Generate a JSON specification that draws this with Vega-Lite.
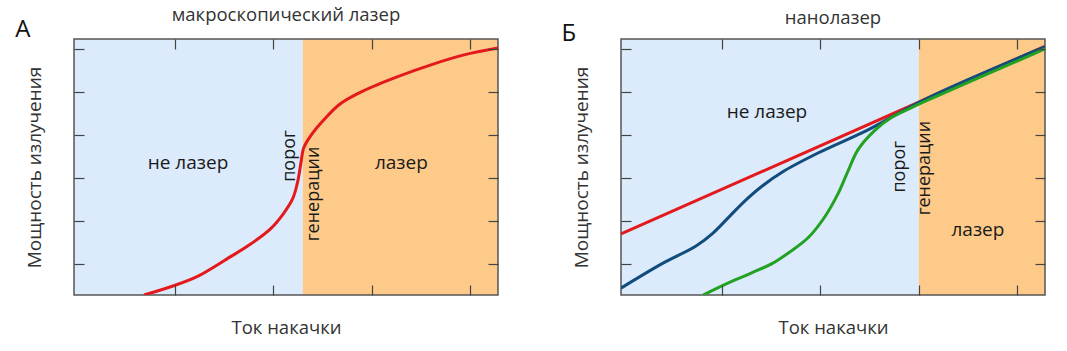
{
  "$schema": "https://vega.github.io/schema/vega-lite/v6.json",
  "padding": {"left": 15, "top": 5, "right": 0, "bottom": 0},
  "bounds": "flush",
  "spacing": 123,
  "config": {
    "font": "Open Sans",
    "view": {"stroke": null},
    "axis": {"labels": false, "grid": false, "domain": false, "ticks": true, "tickColor": "#444", "tickWidth": 1.2, "tickSize": 10, "offset": -10, "titleFont": "Open Sans", "titleFontSize": 18.5, "titleFontWeight": "normal", "titleColor": "#333"},
    "title": {"font": "Open Sans", "fontSize": 18.5, "fontWeight": "normal", "color": "#333", "offset": -6}
  },
  "resolve": {"scale": {"x": "independent", "y": "independent"}},
  "datasets": {
    "frame": [{"x0": -0.02, "x1": 4.28, "y0": 0.28, "y1": 6.23}],
    "regA": [
      {"zone": "не лазер", "x0": -0.02, "x1": 2.30, "y0": 0.28, "y1": 6.23},
      {"zone": "лазер", "x0": 2.30, "x1": 4.28, "y0": 0.28, "y1": 6.23}
    ],
    "regB": [
      {"zone": "не лазер", "x0": -0.02, "x1": 3.0, "y0": 0.28, "y1": 6.23},
      {"zone": "лазер", "x0": 3.0, "x1": 4.28, "y0": 0.28, "y1": 6.23}
    ],
    "curveA": [
      {"x": 0.69, "y": 0.28}, {"x": 0.984, "y": 0.49}, {"x": 1.238, "y": 0.72}, {"x": 1.532, "y": 1.12},
      {"x": 1.775, "y": 1.47}, {"x": 1.978, "y": 1.83}, {"x": 2.11, "y": 2.19}, {"x": 2.20, "y": 2.53},
      {"x": 2.25, "y": 2.93}, {"x": 2.28, "y": 3.33}, {"x": 2.31, "y": 3.70}, {"x": 2.38, "y": 3.98},
      {"x": 2.505, "y": 4.33}, {"x": 2.678, "y": 4.72}, {"x": 2.91, "y": 5.02}, {"x": 3.256, "y": 5.35},
      {"x": 3.60, "y": 5.63}, {"x": 3.935, "y": 5.86}, {"x": 4.28, "y": 6.02}
    ],
    "curveB": [
      {"s": "red", "x": -0.02, "y": 1.70}, {"s": "red", "x": 4.28, "y": 6.06},
      {"s": "blue", "x": -0.02, "y": 0.44}, {"s": "blue", "x": 0.406, "y": 1.02}, {"s": "blue", "x": 0.741, "y": 1.42},
      {"s": "blue", "x": 0.913, "y": 1.72}, {"s": "blue", "x": 1.086, "y": 2.12}, {"s": "blue", "x": 1.248, "y": 2.49},
      {"s": "blue", "x": 1.40, "y": 2.79}, {"s": "blue", "x": 1.633, "y": 3.16}, {"s": "blue", "x": 1.978, "y": 3.58},
      {"s": "blue", "x": 2.485, "y": 4.12}, {"s": "blue", "x": 3.073, "y": 4.84}, {"s": "blue", "x": 4.28, "y": 6.05},
      {"s": "green", "x": 0.812, "y": 0.28}, {"s": "green", "x": 1.086, "y": 0.58}, {"s": "green", "x": 1.30, "y": 0.79},
      {"s": "green", "x": 1.52, "y": 1.02}, {"s": "green", "x": 1.704, "y": 1.30}, {"s": "green", "x": 1.877, "y": 1.61},
      {"s": "green", "x": 2.039, "y": 2.07}, {"s": "green", "x": 2.18, "y": 2.63}, {"s": "green", "x": 2.282, "y": 3.16},
      {"s": "green", "x": 2.384, "y": 3.66}, {"s": "green", "x": 2.546, "y": 4.09}, {"s": "green", "x": 2.718, "y": 4.40},
      {"s": "green", "x": 2.921, "y": 4.63}, {"s": "green", "x": 3.073, "y": 4.79}, {"s": "green", "x": 4.28, "y": 6.0}
    ],
    "labels": [
      {"panel": "A", "kind": "h", "x": 1.136, "y": 3.35, "text": "не лазер"},
      {"panel": "A", "kind": "h", "x": 3.30, "y": 3.35, "text": "лазер"},
      {"panel": "A", "kind": "v", "x": 2.17, "y": 3.51, "text": "порог"},
      {"panel": "A", "kind": "v", "x": 2.41, "y": 2.63, "text": "генерации"},
      {"panel": "A", "kind": "letter", "x": -0.54, "y": 6.43, "text": "А"},
      {"panel": "B", "kind": "h", "x": 1.46, "y": 4.54, "text": "не лазер"},
      {"panel": "B", "kind": "h", "x": 3.60, "y": 1.79, "text": "лазер"},
      {"panel": "B", "kind": "v", "x": 2.81, "y": 3.26, "text": "порог"},
      {"panel": "B", "kind": "v", "x": 3.06, "y": 3.23, "text": "генерации"},
      {"panel": "B", "kind": "letter", "x": -0.55, "y": 6.35, "text": "Б"}
    ]
  },
  "hconcat": [
    {
      "width": 424, "height": 256,
      "title": "макроскопический лазер",
      "layer": [
        {
          "data": {"name": "regA"},
          "mark": {"type": "rect"},
          "encoding": {
            "x": {"field": "x0", "type": "quantitative", "scale": {"domain": [-0.02, 4.28], "nice": false, "zero": false}, "axis": {"orient": "bottom", "zindex": 1, "values": [1, 2, 3, 4], "title": "Ток накачки", "titlePadding": 23}},
            "x2": {"field": "x1"},
            "y": {"field": "y0", "type": "quantitative", "scale": {"domain": [0.28, 6.23], "nice": false, "zero": false}, "axis": {"orient": "left", "zindex": 1, "values": [1, 2, 3, 4, 5, 6], "title": "Мощность излучения", "titlePadding": 29, "titleFontSize": 19}},
            "y2": {"field": "y1"},
            "fill": {"field": "zone", "type": "nominal", "scale": {"domain": ["не лазер", "лазер"], "range": ["#dbebfb", "#fdca8a"]}, "legend": null}
          }
        },
        {
          "data": {"name": "frame"},
          "mark": {"type": "rect", "fill": null, "stroke": "#555", "strokeWidth": 1.5},
          "encoding": {
            "x": {"field": "x0", "type": "quantitative", "axis": {"orient": "top", "zindex": 1, "values": [1, 2, 3, 4], "title": null}},
            "x2": {"field": "x1"},
            "y": {"field": "y0", "type": "quantitative", "axis": {"orient": "right", "zindex": 1, "values": [1, 2, 3, 4, 5, 6], "title": null}},
            "y2": {"field": "y1"}
          }
        },
        {
          "data": {"name": "curveA"},
          "mark": {"type": "line", "color": "#e3191c", "strokeWidth": 3, "interpolate": "catmull-rom", "clip": true},
          "encoding": {
            "x": {"field": "x", "type": "quantitative", "axis": null},
            "y": {"field": "y", "type": "quantitative", "axis": null}
          }
        },
        {
          "data": {"name": "labels"},
          "transform": [{"filter": "datum.panel === 'A' && datum.kind === 'h'"}],
          "mark": {"type": "text", "fontSize": 19, "color": "#1a1a1a"},
          "encoding": {"x": {"field": "x", "type": "quantitative", "axis": null}, "y": {"field": "y", "type": "quantitative", "axis": null}, "text": {"field": "text"}}
        },
        {
          "data": {"name": "labels"},
          "transform": [{"filter": "datum.panel === 'A' && datum.kind === 'v'"}],
          "mark": {"type": "text", "fontSize": 18, "color": "#1a1a1a", "angle": 270},
          "encoding": {"x": {"field": "x", "type": "quantitative", "axis": null}, "y": {"field": "y", "type": "quantitative", "axis": null}, "text": {"field": "text"}}
        },
        {
          "data": {"name": "labels"},
          "transform": [{"filter": "datum.panel === 'A' && datum.kind === 'letter'"}],
          "mark": {"type": "text", "fontSize": 24, "color": "#111"},
          "encoding": {"x": {"field": "x", "type": "quantitative", "axis": null}, "y": {"field": "y", "type": "quantitative", "axis": null}, "text": {"field": "text"}}
        }
      ]
    },
    {
      "width": 424, "height": 256,
      "title": "нанолазер",
      "layer": [
        {
          "data": {"name": "regB"},
          "mark": {"type": "rect"},
          "encoding": {
            "x": {"field": "x0", "type": "quantitative", "scale": {"domain": [-0.02, 4.28], "nice": false, "zero": false}, "axis": {"orient": "bottom", "zindex": 1, "values": [1, 2, 3, 4], "title": "Ток накачки", "titlePadding": 23}},
            "x2": {"field": "x1"},
            "y": {"field": "y0", "type": "quantitative", "scale": {"domain": [0.28, 6.23], "nice": false, "zero": false}, "axis": {"orient": "left", "zindex": 1, "values": [1, 2, 3, 4, 5, 6], "title": "Мощность излучения", "titlePadding": 29, "titleFontSize": 19}},
            "y2": {"field": "y1"},
            "fill": {"field": "zone", "type": "nominal", "scale": {"domain": ["не лазер", "лазер"], "range": ["#dbebfb", "#fdca8a"]}, "legend": null}
          }
        },
        {
          "data": {"name": "frame"},
          "mark": {"type": "rect", "fill": null, "stroke": "#555", "strokeWidth": 1.5},
          "encoding": {
            "x": {"field": "x0", "type": "quantitative", "axis": {"orient": "top", "zindex": 1, "values": [1, 2, 3, 4], "title": null}},
            "x2": {"field": "x1"},
            "y": {"field": "y0", "type": "quantitative", "axis": {"orient": "right", "zindex": 1, "values": [1, 2, 3, 4, 5, 6], "title": null}},
            "y2": {"field": "y1"}
          }
        },
        {
          "data": {"name": "curveB"},
          "transform": [{"filter": "datum.s === 'red'"}],
          "mark": {"type": "line", "strokeWidth": 3, "clip": true},
          "encoding": {
            "x": {"field": "x", "type": "quantitative", "axis": null},
            "y": {"field": "y", "type": "quantitative", "axis": null},
            "stroke": {"field": "s", "type": "nominal", "scale": {"domain": ["red", "blue", "green"], "range": ["#e3191c", "#124c7c", "#23a123"]}, "legend": null}
          }
        },
        {
          "data": {"name": "curveB"},
          "transform": [{"filter": "datum.s === 'blue'"}],
          "mark": {"type": "line", "strokeWidth": 3, "interpolate": "catmull-rom", "clip": true},
          "encoding": {
            "x": {"field": "x", "type": "quantitative", "axis": null},
            "y": {"field": "y", "type": "quantitative", "axis": null},
            "stroke": {"field": "s", "type": "nominal", "legend": null}
          }
        },
        {
          "data": {"name": "curveB"},
          "transform": [{"filter": "datum.s === 'green'"}],
          "mark": {"type": "line", "strokeWidth": 3, "interpolate": "catmull-rom", "clip": true},
          "encoding": {
            "x": {"field": "x", "type": "quantitative", "axis": null},
            "y": {"field": "y", "type": "quantitative", "axis": null},
            "stroke": {"field": "s", "type": "nominal", "legend": null}
          }
        },
        {
          "data": {"name": "labels"},
          "transform": [{"filter": "datum.panel === 'B' && datum.kind === 'h'"}],
          "mark": {"type": "text", "fontSize": 19, "color": "#1a1a1a"},
          "encoding": {"x": {"field": "x", "type": "quantitative", "axis": null}, "y": {"field": "y", "type": "quantitative", "axis": null}, "text": {"field": "text"}}
        },
        {
          "data": {"name": "labels"},
          "transform": [{"filter": "datum.panel === 'B' && datum.kind === 'v'"}],
          "mark": {"type": "text", "fontSize": 18, "color": "#1a1a1a", "angle": 270},
          "encoding": {"x": {"field": "x", "type": "quantitative", "axis": null}, "y": {"field": "y", "type": "quantitative", "axis": null}, "text": {"field": "text"}}
        },
        {
          "data": {"name": "labels"},
          "transform": [{"filter": "datum.panel === 'B' && datum.kind === 'letter'"}],
          "mark": {"type": "text", "fontSize": 24, "color": "#111"},
          "encoding": {"x": {"field": "x", "type": "quantitative", "axis": null}, "y": {"field": "y", "type": "quantitative", "axis": null}, "text": {"field": "text"}}
        }
      ]
    }
  ]
}
